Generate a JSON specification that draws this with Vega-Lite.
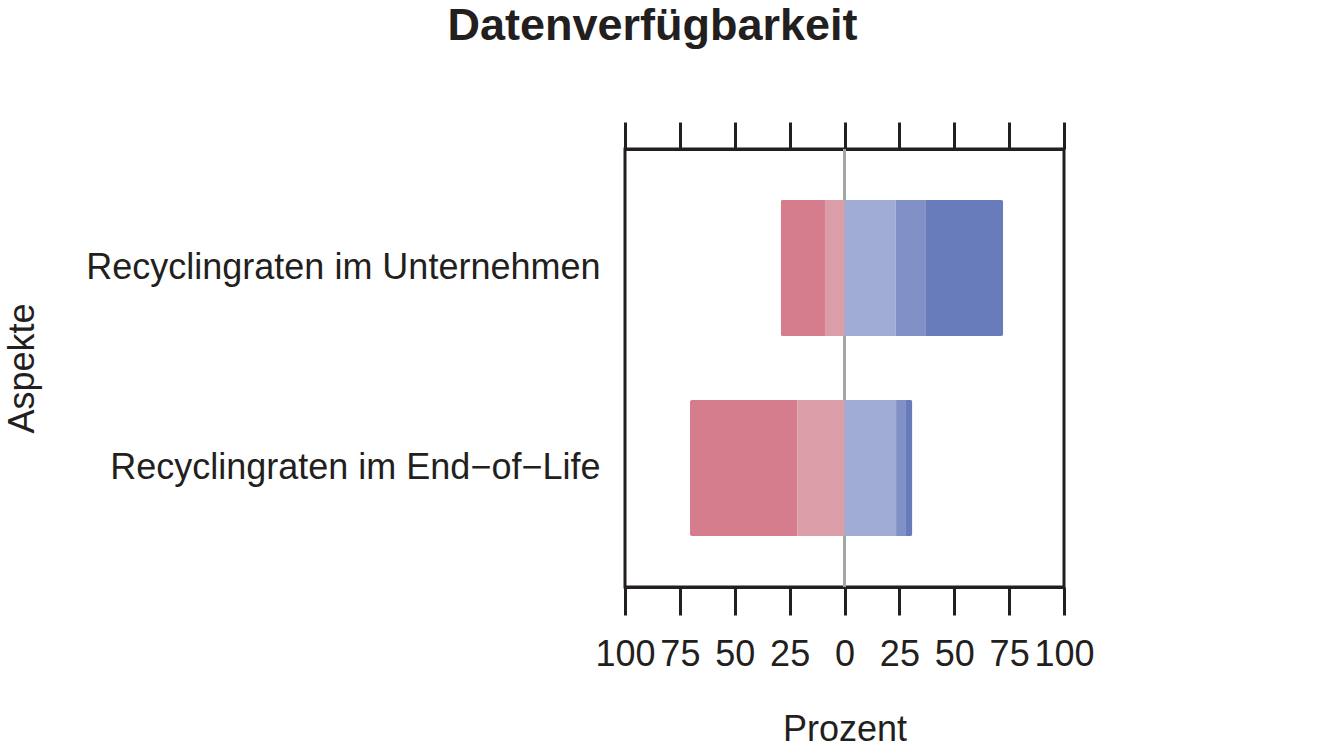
{
  "$schema": "https://vega.github.io/schema/vega-lite/v6.json",
  "autosize": {"type": "none"},
  "padding": {"left": 625, "top": 149, "right": 259, "bottom": 169},
  "width": 439,
  "height": 438,
  "background": "white",
  "title": {
    "text": "Datenverfügbarkeit",
    "font": "Liberation Sans",
    "fontSize": 45,
    "fontWeight": "bold",
    "color": "#231F20",
    "anchor": "middle",
    "frame": "group",
    "dx": -192,
    "offset": 72
  },
  "config": {
    "view": {"stroke": "#231F20", "strokeWidth": 3},
    "font": "Liberation Sans",
    "axis": {
      "labelFont": "Liberation Sans",
      "titleFont": "Liberation Sans",
      "labelColor": "#231F20",
      "titleColor": "#231F20",
      "labelFontSize": 36,
      "titleFontSize": 36,
      "titleFontWeight": "normal",
      "grid": false
    }
  },
  "data": {
    "values": [
      {"aspekt": "Recyclingraten im Unternehmen", "kategorie": "1", "ord": 2, "wert": -20.2},
      {"aspekt": "Recyclingraten im Unternehmen", "kategorie": "2", "ord": 1, "wert": -8.9},
      {"aspekt": "Recyclingraten im Unternehmen", "kategorie": "3", "ord": 3, "wert": 23.3},
      {"aspekt": "Recyclingraten im Unternehmen", "kategorie": "4", "ord": 4, "wert": 13.8},
      {"aspekt": "Recyclingraten im Unternehmen", "kategorie": "5", "ord": 5, "wert": 35.2},
      {"aspekt": "Recyclingraten im End−of−Life", "kategorie": "1", "ord": 2, "wert": -49.0},
      {"aspekt": "Recyclingraten im End−of−Life", "kategorie": "2", "ord": 1, "wert": -21.4},
      {"aspekt": "Recyclingraten im End−of−Life", "kategorie": "3", "ord": 3, "wert": 23.5},
      {"aspekt": "Recyclingraten im End−of−Life", "kategorie": "4", "ord": 4, "wert": 4.5},
      {"aspekt": "Recyclingraten im End−of−Life", "kategorie": "5", "ord": 5, "wert": 2.9}
    ]
  },
  "resolve": {"axis": {"x": "independent"}},
  "layer": [
    {
      "data": {"values": [{"null": 0}]},
      "mark": {"type": "rule", "color": "#A3A7A6", "strokeWidth": 3},
      "encoding": {
        "x": {
          "field": "null",
          "type": "quantitative",
          "scale": {"domain": [-100, 100], "nice": false, "zero": false},
          "axis": {
            "orient": "top",
            "values": [-100, -75, -50, -25, 0, 25, 50, 75, 100],
            "labels": false,
            "title": null,
            "ticks": true,
            "tickSize": 27,
            "tickWidth": 3,
            "tickColor": "#231F20",
            "domain": true,
            "domainWidth": 3,
            "domainColor": "#231F20"
          }
        }
      }
    },
    {
      "mark": {"type": "bar", "cornerRadius": 2},
      "encoding": {
        "y": {
          "field": "aspekt",
          "type": "nominal",
          "sort": ["Recyclingraten im Unternehmen", "Recyclingraten im End−of−Life"],
          "scale": {"paddingInner": 0.32, "paddingOuter": 0.255},
          "axis": {
            "title": "Aspekte",
            "ticks": false,
            "domain": false,
            "labelLimit": 0,
            "labelPadding": 25,
            "titlePadding": 384
          }
        },
        "x": {
          "field": "wert",
          "type": "quantitative",
          "stack": "zero",
          "scale": {"domain": [-100, 100], "nice": false, "zero": false},
          "axis": {
            "orient": "bottom",
            "values": [-100, -75, -50, -25, 0, 25, 50, 75, 100],
            "labelExpr": "abs(datum.value)",
            "labelFlush": false,
            "labelOverlap": false,
            "title": "Prozent",
            "titlePadding": 40,
            "tickSize": 28,
            "tickWidth": 3,
            "tickColor": "#231F20",
            "domainWidth": 3,
            "domainColor": "#231F20",
            "labelPadding": 22
          }
        },
        "color": {
          "field": "kategorie",
          "type": "nominal",
          "scale": {
            "domain": ["1", "2", "3", "4", "5"],
            "range": ["#D67D8D", "#DB9DA8", "#A0ACD6", "#8191C7", "#687CBC"]
          },
          "legend": null
        },
        "order": {"field": "ord", "type": "quantitative"}
      }
    }
  ]
}
